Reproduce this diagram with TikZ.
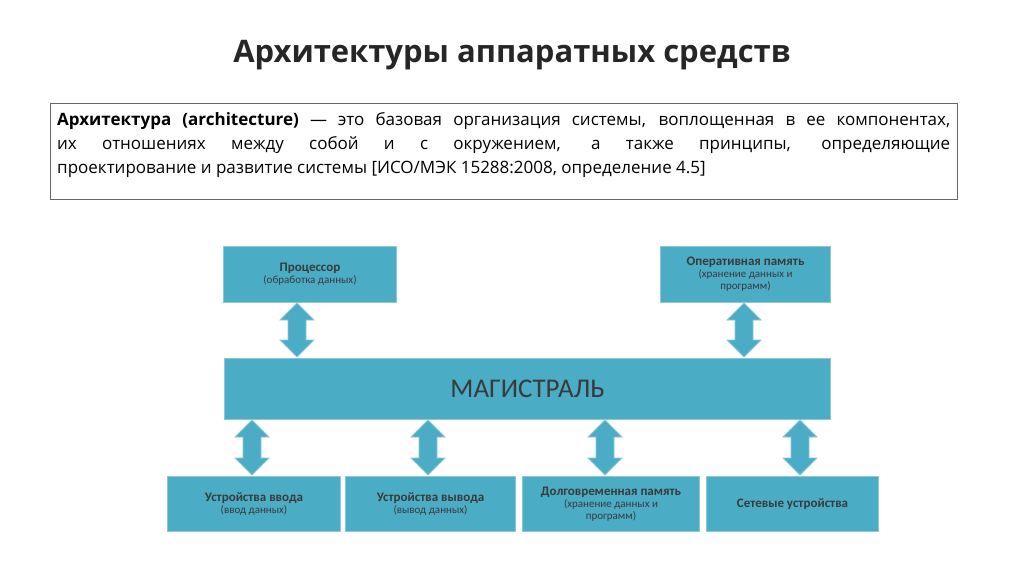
\documentclass[tikz,border=0pt]{standalone}
\usepackage{fontspec}
\setmainfont{Open Sans}
\newfontfamily\calf{Carlito}
\usetikzlibrary{calc}
\definecolor{tealc}{HTML}{4BACC6}
\definecolor{tealb}{HTML}{8CC8D8}
\definecolor{txt}{HTML}{3A3A3A}
\newcommand\bigf{\calf\fontsize{13}{16}\selectfont\bfseries}
\newcommand\smf{\calf\fontsize{11}{15}\selectfont\mdseries}
\tikzset{
 blk/.style={draw=tealb,line width=1pt,fill=tealc,text=txt,align=center,inner sep=0pt},
 fat/.style={fill=tealc,draw=tealb,line width=0.8pt}
}
\newcommand\fatarrow[2]{%
 \path[fat] (#1) -- ($(#1)+(17,17)$) -- ($(#1)+(9,17)$) -- ($(#2)+(9,-17)$) -- ($(#2)+(17,-17)$) -- (#2)
  -- ($(#2)+(-17,-17)$) -- ($(#2)+(-9,-17)$) -- ($(#1)+(-9,17)$) -- ($(#1)+(-17,17)$) -- cycle;}
\begin{document}
\begin{tikzpicture}[x=1pt,y=-1pt]
\useasboundingbox (0,0) rectangle (1024,574);
\node[font=\bfseries\fontsize{31}{36}\selectfont,text=black!85] (title) at (512,55) {Архитектуры аппаратных средств};
\node[draw=black!60,line width=0.8pt,minimum width=907,minimum height=96,anchor=north west] (def) at (50,103) {};
\node[anchor=north west,text width=893,align=justify,font=\fontsize{17}{24}\selectfont,inner sep=0pt] (deftxt) at (57,112)
 {\textbf{Архитектура (architecture)} — это базовая организация системы, воплощенная в ее компонентах,\linebreak их отношениях между собой и с окружением, а также принципы, определяющие\linebreak проектирование и развитие системы [ИСО/МЭК 15288:2008, определение 4.5]};
\node[blk,minimum width=173,minimum height=56,anchor=north west] (cpu) at (223,246)
 {\bigf Процессор\\\smf (обработка данных)};
\node[blk,minimum width=170,minimum height=56,anchor=north west] (ram) at (660,246)
 {\bigf Оперативная память\\\smf (хранение данных и\\\smf программ)};
\node[blk,minimum width=606,minimum height=61,anchor=north west,font=\calf\fontsize{27}{30}\selectfont] (bus) at (224,358) {МАГИСТРАЛЬ};
\node[blk,minimum width=173,minimum height=55,anchor=north west] (in) at (167,476)
 {\bigf Устройства ввода\\\smf (ввод данных)};
\node[blk,minimum width=170,minimum height=55,anchor=north west] (out) at (345,476)
 {\bigf Устройства вывода\\\smf (вывод данных)};
\node[blk,minimum width=177,minimum height=55,anchor=north west] (rom) at (522,476)
 {\bigf Долговременная память\\\smf (хранение данных и\\\smf программ)};
\node[blk,minimum width=172,minimum height=55,anchor=north west] (net) at (706,476) {\bigf Сетевые устройства};
\coordinate (a1) at (297,303); \coordinate (b1) at (297,357);
\coordinate (a2) at (744,303); \coordinate (b2) at (744,357);
\coordinate (c1) at (252,420); \coordinate (d1) at (252,475);
\coordinate (c2) at (428,420); \coordinate (d2) at (428,475);
\coordinate (c3) at (605,420); \coordinate (d3) at (605,475);
\coordinate (c4) at (800,420); \coordinate (d4) at (800,475);
\fatarrow{a1}{b1}\fatarrow{a2}{b2}
\fatarrow{c1}{d1}\fatarrow{c2}{d2}\fatarrow{c3}{d3}\fatarrow{c4}{d4}
\end{tikzpicture}
\end{document}
